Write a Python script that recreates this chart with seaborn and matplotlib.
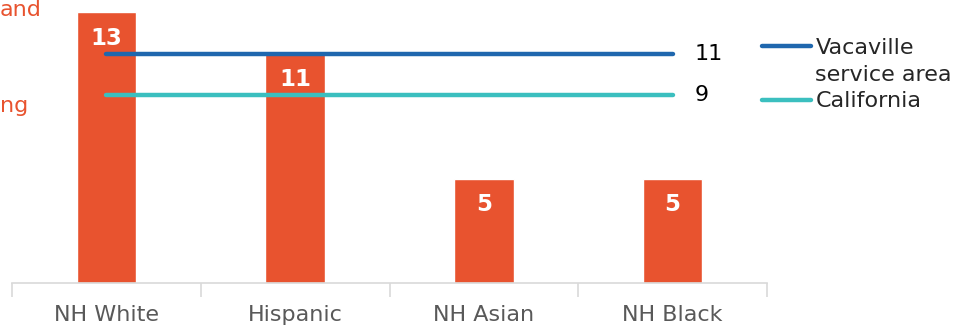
import matplotlib
matplotlib.use("Agg")
import matplotlib.pyplot as plt
from matplotlib.lines import Line2D
import seaborn as sns
import pandas as pd

categories = ["NH White", "Hispanic", "NH Asian", "NH Black"]
values = [13, 11, 5, 5]
vacaville_value = 11
california_value = 9
legend_labels = ["Vacaville", "service area", "California"]

BAR = "#E8532F"
BLUE = "#1F67AE"
TEAL = "#3BBFBF"

sns.set_style("white")
plt.rcParams["font.family"] = ["DejaVu Sans"]

fig = plt.figure(figsize=(9.69, 3.27), dpi=100)
ax = fig.add_axes([12/969, 44/327, 755/969, 283/327])

df = pd.DataFrame({"cat": categories, "val": values})
sns.barplot(data=df, x="cat", y="val", color=BAR, width=0.315, saturation=1, ax=ax)

for i, v in enumerate(values):
    ax.annotate(str(v), (i, v), xytext=(0, -26), textcoords="offset pixels",
                ha="center", va="center", color="white", fontsize=16.5, fontweight="bold")

xs = [0, len(categories) - 1]
l1, = ax.plot(xs, [vacaville_value] * 2, color=BLUE, lw=3.2, solid_capstyle="round")
l2, = ax.plot(xs, [california_value] * 2, color=TEAL, lw=3.2, solid_capstyle="round")
ax.annotate(str(vacaville_value), (xs[1], vacaville_value), xytext=(22, 0), textcoords="offset pixels",
            ha="left", va="center", fontsize=16, color="black")
ax.annotate(str(california_value), (xs[1], california_value), xytext=(22, 0), textcoords="offset pixels",
            ha="left", va="center", fontsize=16, color="black")

ax.set_xlim(-0.5, 3.5)
ax.set_ylim(0, 13.58)
ax.set_xlabel("")
ax.set_ylabel("")
ax.set_yticks([])
for s in ["top", "right", "left"]:
    ax.spines[s].set_visible(False)
ax.spines["bottom"].set_color("#D9D9D9")
ax.spines["bottom"].set_linewidth(1.2)
ax.set_xticks(range(len(categories)))
ax.set_xticklabels(categories, fontsize=16, color="#595959")
ax.tick_params(axis="x", which="major", length=0, pad=16)
ax.set_xticks([-0.5, 0.5, 1.5, 2.5, 3.5], minor=True)
ax.tick_params(axis="x", which="minor", bottom=True, length=10, width=1.2, color="#D9D9D9", direction="out")

blank = Line2D([], [], color="none")
leg = ax.legend([l1, blank, l2], legend_labels, loc="upper left",
                bbox_to_anchor=(750/755, 1 - 38/283), frameon=False,
                fontsize=16, handlelength=2.2, handletextpad=0.2, labelspacing=0.3,
                borderaxespad=0, borderpad=0)

fig.text(0, 1 - 10/327, "and", color=BAR, fontsize=16, ha="left", va="center")
fig.text(0, 1 - 106/327, "ng", color=BAR, fontsize=16, ha="left", va="center")

fig.savefig("out.png", dpi=100)
